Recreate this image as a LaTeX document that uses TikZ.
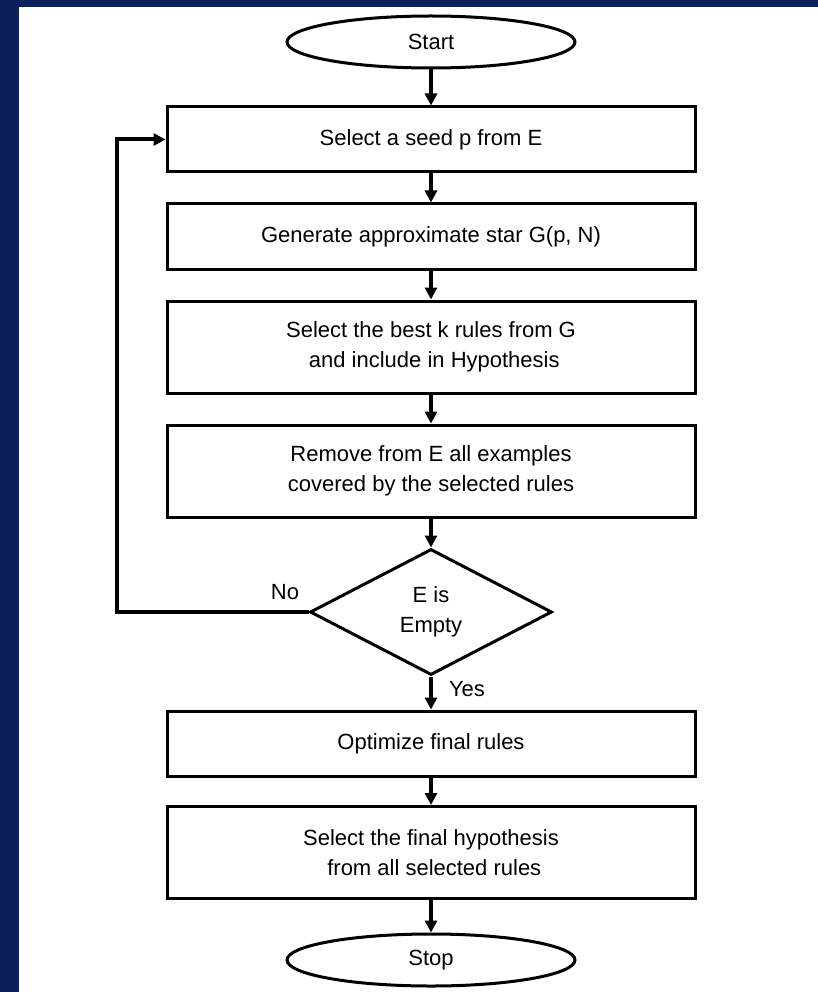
\documentclass[tikz,border=0pt]{standalone}
\usepackage{fontspec}
\setmainfont{Liberation Sans}
\usetikzlibrary{shapes.geometric,arrows.meta}
\definecolor{navy}{RGB}{11,31,91}
\begin{document}
\begin{tikzpicture}[x=1pt,y=-1pt,
  every node/.style={font=\fontsize{22}{30}\selectfont},
  procbox/.style={draw,line width=3pt,minimum width=528pt,minimum height=65pt,align=center,inner sep=0pt},
  tallbox/.style={procbox,minimum height=92pt},
  terminal/.style={draw,ellipse,line width=3pt,minimum width=288pt,minimum height=52pt,inner sep=0pt},
  decision/.style={draw,diamond,line width=3pt,minimum width=242pt,minimum height=126pt,aspect=1.92,inner sep=0pt,align=center},
  flow/.style={line width=4pt,-{Triangle[length=12pt,width=12pt]}},
  label/.style={inner sep=0pt}]
  % frame
  \useasboundingbox (0,0) rectangle (818,992);
  \fill[navy] (0,0) rectangle (818,992);
  \fill[white] (19,7) rectangle (818,992);

  % flow nodes
  \node[terminal] (start) at (431,42) {Start};
  \node[procbox] (b1) at (431,139.5) {Select a seed p from E};
  \node[procbox] (b2) at (431,236.5) {Generate approximate star G(p, N)};
  \node[tallbox] (b3) at (431,347) {Select the best k rules from G\\\hspace*{0.3em}and include in Hypothesis};
  \node[tallbox] (b4) at (431,471) {Remove from E all examples\\covered by the selected rules};
  \node[decision] (dec) at (431,612) {E is\\Empty};
  \node[procbox] (b5) at (431,743.5) {Optimize final rules};
  \node[tallbox] (b6) at (431,852.5) {Select the final hypothesis\\\hspace*{0.3em}from all selected rules};
  \node[terminal] (stop) at (431,960) {Stop};

  % connectors
  \draw[flow] (start) -- (b1);
  \draw[flow] (b1) -- (b2);
  \draw[flow] (b2) -- (b3);
  \draw[flow] (b3) -- (b4);
  \draw[flow] (b4) -- (dec);
  \draw[flow] (dec) -- (b5);
  \draw[flow] (b5) -- (b6);
  \draw[flow] (b6) -- (stop);
  \coordinate (loop) at (117,612);
  \draw[flow] (dec.west) -- (loop) |- (b1.west);

  % branch labels
  \node[label] (no) at (285,592) {No};
  \node[label] (yes) at (467,689) {Yes};
\end{tikzpicture}
\end{document}
